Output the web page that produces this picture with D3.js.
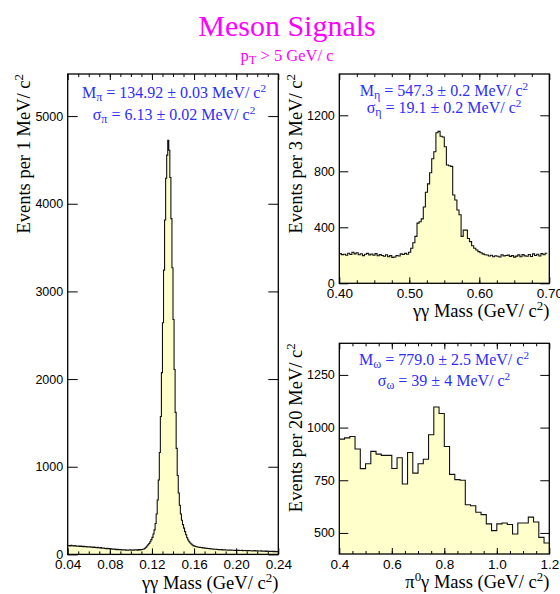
<!DOCTYPE html>
<html>
<head>
<meta charset="utf-8">
<script src="https://cdn.jsdelivr.net/npm/d3@7"></script>
<style>
body { margin: 0; background: #fff; }
</style>
</head>
<body>
<div id="chart"></div>
<script>
// pi0 -> gamma gamma, 1 MeV bins from 0.040 to 0.240 GeV
const pi0Start = 0.040;
const pi0Width = 0.001;
const pi0Counts = [
  98, 102, 96, 104, 99, 95, 101, 97, 93, 96,
  94, 90, 95, 91, 88, 92, 87, 89, 85, 88,
  84, 86, 82, 85, 80, 83, 79, 77, 80, 76,
  74, 77, 72, 70, 73, 68, 66, 69, 64, 66,
  62, 64, 60, 58, 61, 57, 55, 58, 54, 53,
  55, 51, 52, 50, 53, 49, 51, 48, 50, 52,
  49, 51, 48, 53, 50, 52, 49, 54, 51, 55,
  56, 58, 62, 70,
  81, 95, 110, 125, 145, 168, 194, 232, 280, 353,
  460, 621, 849, 1163, 1573, 2073, 2643, 3243, 3814, 4291,
  4555, 4725, 4610, 4300, 3830, 3270, 2680, 2110, 1620, 1210,
  900, 700, 560, 460, 390, 340, 300, 260, 225, 190,
  165, 145, 130, 118, 108, 100,
  95, 90, 87, 84, 82, 80, 78, 77, 75, 74,
  72, 70, 69, 67, 66, 64, 63, 62, 60, 59,
  58, 57, 56, 55, 54, 53, 54, 52, 51, 52,
  50, 51, 49, 50, 48, 49, 47, 48, 46, 47,
  46, 45, 47, 44, 45, 46, 43, 44, 45, 42,
  43, 42, 44, 41, 42, 40, 41, 43, 39, 40,
  41, 39, 38, 40, 37, 39, 36, 38, 35, 37,
  36, 34, 35, 33, 36, 32, 34, 31, 33, 31
];

// eta -> gamma gamma, 3 MeV bins from 0.400 to 0.700 GeV
const etaStart = 0.400;
const etaWidth = 0.003;
const etaCounts = [
  212, 205, 208, 200, 215, 206, 222, 210, 218, 204,
  211, 198, 207, 214, 203, 209, 200, 212, 197, 205,
  199, 193, 204, 190, 198, 185, 188, 199, 195, 210,
  206, 214, 208, 222,
  250, 290, 335, 430, 440, 460, 545, 650, 710, 790,
  890, 940, 1075, 1085, 1050, 1045, 975, 845, 840, 835,
  631, 595, 524, 490, 335, 380, 380, 320, 298, 268,
  250, 238, 226, 218, 210, 204,
  202, 195, 200, 190, 197, 193, 188, 204, 196,
  199, 201, 192, 198, 187, 194, 203, 190, 205, 196,
  193, 206, 191, 210, 199, 208, 195, 212, 204, 215
];

// omega -> pi0 gamma, 20 MeV bins from 0.4 to 1.2 GeV
const omegaStart = 0.4;
const omegaWidth = 0.02;
const omegaCounts = [
  945, 951, 958, 898, 805, 828, 887, 874, 868, 868,
  806, 857, 732, 882, 784, 828, 850, 966, 1098, 1067,
  910, 778, 753, 750, 634, 629, 598, 587, 543, 511,
  543, 547, 540, 495, 547, 547, 575, 552, 479, 452
];

const pi0XTicks = [0.04, 0.08, 0.12, 0.16, 0.20, 0.24];
const pi0YTicks = [0, 1000, 2000, 3000, 4000, 5000];
const etaXTicks = [0.40, 0.50, 0.60, 0.70];
const etaYTicks = [0, 400, 800, 1200];
const omegaXTicks = [0.4, 0.6, 0.8, 1.0, 1.2];
const omegaYTicks = [500, 750, 1000, 1250];

const serif = "'Liberation Serif', 'Times New Roman', serif";
const sans = "'Liberation Sans', Arial, Helvetica, sans-serif";
const blue = "#2d2dff";
const magenta = "#ff00ff";

const svg = d3.select("#chart").append("svg")
    .attr("width", 560)
    .attr("height", 594);

// write text made of pieces: [string, "sub" | "sup" | ""]
function richText(g, parts) {
  parts.forEach(function(p) {
    const t = g.append("tspan").text(p[0]);
    if (p[1] === "sub") t.attr("baseline-shift", "-0.22em").attr("font-size", "75%");
    if (p[1] === "sup") t.attr("baseline-shift", "super").attr("font-size", "70%");
  });
}

// title
svg.append("text")
    .attr("x", 287)
    .attr("y", 36)
    .attr("text-anchor", "middle")
    .attr("font-family", serif)
    .attr("font-size", 30)
    .attr("fill", magenta)
    .text("Meson Signals");

const sub = svg.append("text")
    .attr("x", 287)
    .attr("y", 61)
    .attr("text-anchor", "middle")
    .attr("font-family", serif)
    .attr("font-size", 16.5)
    .attr("fill", magenta);
richText(sub, [["p", ""], ["T", "sub"], [" > 5 GeV/ c", ""]]);

let clipId = 0;

function panel(o) {
  const x = d3.scaleLinear().domain(o.xDomain).range([o.left, o.right]);
  const y = d3.scaleLinear().domain(o.yDomain).range([o.bottom, o.top]);
  const g = svg.append("g");

  clipId++;
  g.append("clipPath").attr("id", "clip" + clipId)
    .append("rect")
      .attr("x", o.left).attr("y", o.top)
      .attr("width", o.right - o.left).attr("height", o.bottom - o.top);

  const pts = o.counts.map(function(v, i) { return [o.start + i * o.width, v]; });
  pts.push([o.start + o.counts.length * o.width, o.counts[o.counts.length - 1]]);

  const area = d3.area()
      .x(function(d) { return x(d[0]); })
      .y0(y(o.yDomain[0]))
      .y1(function(d) { return y(d[1]); })
      .curve(d3.curveStepAfter);
  const line = d3.line()
      .x(function(d) { return x(d[0]); })
      .y(function(d) { return y(d[1]); })
      .curve(d3.curveStepAfter);

  const hg = g.append("g").attr("clip-path", "url(#clip" + clipId + ")");
  hg.append("path").attr("d", area(pts)).attr("fill", "#ffffcc");
  hg.append("path").attr("d", line(pts))
      .attr("fill", "none")
      .attr("stroke", "#111")
      .attr("stroke-width", 1.1);

  // minor x ticks, bottom and top
  g.append("g")
      .attr("transform", "translate(0," + o.bottom + ")")
      .call(d3.axisBottom(x).tickValues(o.xMinor).tickSize(-3).tickFormat(""))
      .call(function(a) { a.select(".domain").remove(); });
  g.append("g")
      .attr("transform", "translate(0," + o.top + ")")
      .call(d3.axisTop(x).tickValues(o.xMinor).tickSize(-3).tickFormat(""))
      .call(function(a) { a.select(".domain").remove(); });

  // major x ticks
  const xa = g.append("g")
      .attr("transform", "translate(0," + o.bottom + ")")
      .call(d3.axisBottom(x).tickValues(o.xTicks).tickSize(-6).tickPadding(5.5)
        .tickFormat(d3.format(o.xFormat)));
  xa.select(".domain").remove();
  xa.selectAll("text").attr("font-family", sans).attr("font-size", 13.5).attr("fill", "#000");
  g.append("g")
      .attr("transform", "translate(0," + o.top + ")")
      .call(d3.axisTop(x).tickValues(o.xTicks).tickSize(-6).tickFormat(""))
      .call(function(a) { a.select(".domain").remove(); });

  // y ticks, left with labels and right mirror
  const ya = g.append("g")
      .attr("transform", "translate(" + o.left + ",0)")
      .call(d3.axisLeft(y).tickValues(o.yTicks).tickSize(-o.yTick).tickPadding(4.5)
        .tickFormat(d3.format("d")));
  ya.select(".domain").remove();
  ya.selectAll("text").attr("font-family", sans).attr("font-size", 12.5).attr("fill", "#000");
  g.append("g")
      .attr("transform", "translate(" + o.right + ",0)")
      .call(d3.axisRight(y).tickValues(o.yTicks).tickSize(-o.yTick).tickFormat(""))
      .call(function(a) { a.select(".domain").remove(); });

  g.selectAll(".tick line").attr("stroke", "#000").attr("stroke-width", 1);

  // frame
  g.append("rect")
      .attr("x", o.left).attr("y", o.top)
      .attr("width", o.right - o.left).attr("height", o.bottom - o.top)
      .attr("fill", "none")
      .attr("stroke", "#000")
      .attr("stroke-width", 1.3);

  // axis titles
  const xt = g.append("text")
      .attr("x", o.right)
      .attr("y", o.xTitleY)
      .attr("text-anchor", "end")
      .attr("font-family", serif)
      .attr("font-size", 18.5);
  richText(xt, o.xTitle);

  const yt = g.append("text")
      .attr("transform", "translate(" + o.yTitleX + "," + o.top + ") rotate(-90)")
      .attr("text-anchor", "end")
      .attr("font-family", serif)
      .attr("font-size", 18.5);
  richText(yt, o.yTitle);

  // fit results
  o.notes.forEach(function(n, i) {
    const t = g.append("text")
        .attr("x", o.noteX)
        .attr("y", o.noteY[i])
        .attr("text-anchor", "middle")
        .attr("font-family", serif)
        .attr("font-size", 16)
        .attr("fill", blue);
    richText(t, n);
  });
}

panel({
  left: 67.7, right: 278.3, top: 74, bottom: 554.4,
  xDomain: [0.04, 0.24], yDomain: [0, 5480],
  start: pi0Start, width: pi0Width, counts: pi0Counts,
  xTicks: pi0XTicks, xMinor: d3.range(0.05, 0.24, 0.01), xFormat: ".2f",
  yTicks: pi0YTicks, yTick: 10,
  xTitle: [["\u03b3\u03b3 Mass (GeV/ c", ""], ["2", "sup"], [")", ""]],
  xTitleY: 589,
  yTitle: [["Events per 1 MeV/ c", ""], ["2", "sup"]],
  yTitleX: 30,
  noteX: 174, noteY: [98, 120],
  notes: [
    [["M", ""], ["\u03c0", "sub"], [" = 134.92 \u00b1 0.03 MeV/ c", ""], ["2", "sup"]],
    [["\u03c3", ""], ["\u03c0", "sub"], [" = 6.13 \u00b1 0.02 MeV/ c", ""], ["2", "sup"]]
  ]
});

panel({
  left: 339.3, right: 549.3, top: 74, bottom: 283.3,
  xDomain: [0.40, 0.70], yDomain: [0, 1495],
  start: etaStart, width: etaWidth, counts: etaCounts,
  xTicks: etaXTicks, xMinor: d3.range(0.425, 0.70, 0.025), xFormat: ".2f",
  yTicks: etaYTicks, yTick: 9,
  xTitle: [["\u03b3\u03b3 Mass (GeV/ c", ""], ["2", "sup"], [")", ""]],
  xTitleY: 317,
  yTitle: [["Events per 3 MeV/ c", ""], ["2", "sup"]],
  yTitleX: 302,
  noteX: 444, noteY: [96, 113],
  notes: [
    [["M", ""], ["\u03b7", "sub"], [" = 547.3 \u00b1 0.2 MeV/ c", ""], ["2", "sup"]],
    [["\u03c3", ""], ["\u03b7", "sub"], [" = 19.1 \u00b1 0.2 MeV/ c", ""], ["2", "sup"]]
  ]
});

panel({
  left: 339.3, right: 549.3, top: 343.3, bottom: 554,
  xDomain: [0.4, 1.2], yDomain: [400, 1400],
  start: omegaStart, width: omegaWidth, counts: omegaCounts,
  xTicks: omegaXTicks, xMinor: d3.range(0.45, 1.2, 0.05), xFormat: ".1f",
  yTicks: omegaYTicks, yTick: 9,
  xTitle: [["\u03c0", ""], ["0", "sup"], ["\u03b3 Mass (GeV/ c", ""], ["2", "sup"], [")", ""]],
  xTitleY: 588,
  yTitle: [["Events per 20 MeV/ c", ""], ["2", "sup"]],
  yTitleX: 302,
  noteX: 444, noteY: [365, 386],
  notes: [
    [["M", ""], ["\u03c9", "sub"], [" = 779.0 \u00b1 2.5 MeV/ c", ""], ["2", "sup"]],
    [["\u03c3", ""], ["\u03c9", "sub"], [" = 39 \u00b1 4 MeV/ c", ""], ["2", "sup"]]
  ]
});
</script>
</body>
</html>
